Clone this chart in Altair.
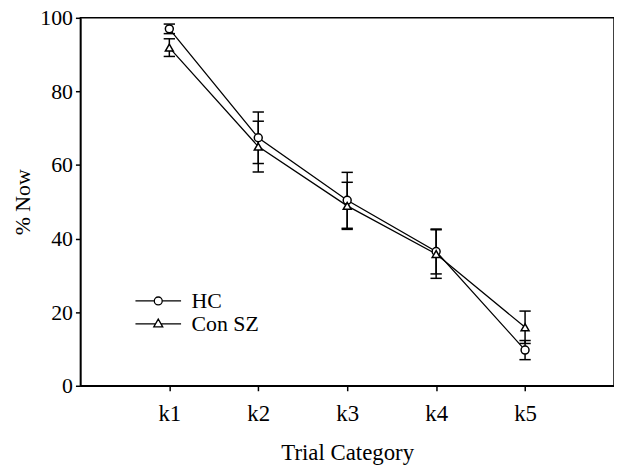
import altair as alt
import pandas as pd

categories = ["k1", "k2", "k3", "k4", "k5"]
groups = ["HC", "Con SZ"]
hc_mean = [97.0, 67.4, 50.4, 36.5, 9.7]
hc_err = [1.3, 7.0, 7.6, 6.1, 2.6]
csz_mean = [91.9, 65.0, 48.9, 35.8, 15.9]
csz_err = [2.4, 6.9, 6.4, 6.6, 4.4]
y_ticks = [0, 20, 40, 60, 80, 100]

rows = []
for g, means, errs in [("HC", hc_mean, hc_err), ("Con SZ", csz_mean, csz_err)]:
    for c, m, e in zip(categories, means, errs):
        rows.append({"cat": c, "group": g, "mean": m, "lo": m - e, "hi": m + e})
df = pd.DataFrame(rows)

FONT = "Liberation Serif, Times New Roman, Times, serif"

x_enc = alt.X("cat:N", sort=categories,
              scale=alt.Scale(type="point", padding=1),
              axis=alt.Axis(title="Trial Category", labelAngle=0))
y_scale = alt.Scale(domain=[0, 100], nice=False, zero=True)
y_axis = alt.Axis(title="% Now", values=y_ticks)

base = alt.Chart(df)

lines = base.mark_line(color="black", strokeWidth=1.3).encode(
    x=x_enc, y=alt.Y("mean:Q", scale=y_scale, axis=y_axis), detail="group:N"
)
rules = base.mark_rule(color="black", strokeWidth=1.5).encode(
    x=x_enc, y=alt.Y("lo:Q", scale=y_scale, axis=y_axis), y2="hi:Q"
)
cap_path = "M-1,0L1,0"
caps_lo = base.mark_point(shape=cap_path, size=130, filled=False, color="black",
                          strokeWidth=1.5, opacity=1).encode(
    x=x_enc, y=alt.Y("lo:Q", scale=y_scale, axis=y_axis)
)
caps_hi = base.mark_point(shape=cap_path, size=130, filled=False, color="black",
                          strokeWidth=1.5, opacity=1).encode(
    x=x_enc, y=alt.Y("hi:Q", scale=y_scale, axis=y_axis)
)
points = base.mark_point(filled=False, fill="white", stroke="black", strokeWidth=1.5,
                         size=64, opacity=1, fillOpacity=1).encode(
    x=x_enc, y=alt.Y("mean:Q", scale=y_scale, axis=y_axis),
    shape=alt.Shape("group:N", scale=alt.Scale(domain=groups, range=["circle", "triangle-up"]),
                    legend=None)
)

# legend glyphs: a line segment with the marker in the middle (units of symbol radius)
L = 2.19
r = 0.38
leg_circle = (f"M-{L},0L-{r},0M{r},0A{r},{r} 0 1,1 -{r},0A{r},{r} 0 1,1 {r},0M{r},0L{L},0")
leg_tri = f"M-{L},0L-0.25,0M0.25,0L{L},0M0,-0.45L0.43,0.3L-0.43,0.3Z"

legend_layer = base.mark_point(opacity=0, filled=False).encode(
    x=x_enc, y=alt.Y("mean:Q", scale=y_scale, axis=y_axis),
    shape=alt.Shape("group:N",
                    scale=alt.Scale(domain=groups, range=[leg_circle, leg_tri]),
                    legend=alt.Legend(title=None, orient="none", legendX=67, legendY=274,
                                      symbolSize=441, symbolStrokeColor="black",
                                      symbolFillColor="white", symbolOpacity=1,
                                      symbolStrokeWidth=1.3, labelFont=FONT,
                                      labelFontSize=22, labelColor="black",
                                      labelOffset=22, rowPadding=-1, padding=0))
)

chart = alt.layer(lines, rules, caps_lo, caps_hi, points, legend_layer).resolve_scale(
    shape="independent"
).properties(
    width=538, height=371,
    autosize=alt.AutoSizeParams(type="none"),
    padding={"left": 73, "top": 8, "right": 0, "bottom": 80},
).configure(
    font=FONT
).configure_view(
    stroke="black", strokeWidth=1.5
).configure_axis(
    grid=False, domainColor="black", domainWidth=1.5, tickColor="black", tickWidth=1.5,
    tickSize=5, labelFont=FONT, labelFontSize=23, labelColor="black",
    titleFont=FONT, titleFontSize=23, titleFontWeight="normal", titleColor="black",
).configure_axisX(
    labelPadding=12, titlePadding=16
).configure_axisY(
    labelPadding=3, titlePadding=5, titleFontSize=22, labelFontSize=22
)

chart.save("out.html", embed_options={"renderer": "svg", "actions": False})
